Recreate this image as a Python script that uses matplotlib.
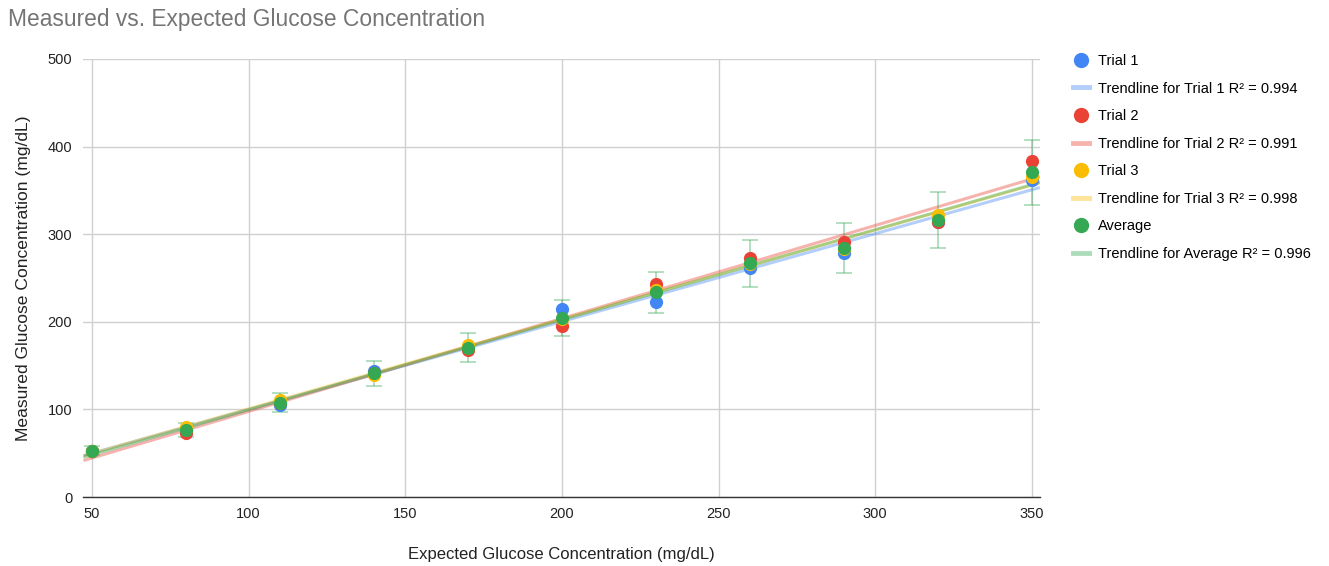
"""Measured vs. expected glucose concentration scatter with linear trendlines."""

import matplotlib

matplotlib.use("Agg")
import matplotlib.pyplot as plt
import numpy as np
from matplotlib.lines import Line2D

plt.rcParams["font.family"] = ["Liberation Sans", "DejaVu Sans"]

expected = [50, 80, 110, 140, 170, 200, 230, 260, 290, 320, 350]
trial_1 = [52.8, 76.5, 104.5, 144.0, 170.8, 214.6, 223.0, 261.8, 278.8, 314.0, 362.4]
trial_2 = [52.8, 73.3, 107.5, 141.0, 168.0, 195.3, 242.7, 272.8, 290.6, 313.4, 384.0]
trial_3 = [52.8, 79.4, 110.5, 139.0, 173.0, 203.3, 236.0, 266.0, 283.3, 321.8, 365.5]
average = [52.8, 76.4, 107.5, 141.3, 170.6, 204.4, 233.9, 266.9, 284.2, 316.4, 370.6]

series_names = ["Trial 1", "Trial 2", "Trial 3", "Average"]
r_squared = ["0.994", "0.991", "0.998", "0.996"]
error_percent = 10  # percent error bars on the average series

colors = ["#4285F4", "#EA4335", "#FBBC04", "#34A853"]

fig = plt.figure(figsize=(13.29, 5.66), dpi=100)
ax = fig.add_axes([0.0628, 0.1219, 0.7197, 0.7739])

x_lo, x_hi = 47.3, 352.6
ax.set_xlim(x_lo, x_hi)
ax.set_ylim(0, 500)

x = np.array(expected, dtype=float)
all_series = [trial_1, trial_2, trial_3, average]

# trendlines first so points sit above them
x_line = np.array([x_lo, x_hi])
for ys, color in zip(all_series, colors):
    slope, intercept = np.polyfit(x, np.array(ys), 1)
    ax.plot(x_line, slope * x_line + intercept, color=color, alpha=0.4,
            lw=2.2, zorder=2, solid_capstyle="butt")

avg = np.array(average)
ax.errorbar(x, avg, yerr=avg * error_percent / 100, fmt="none",
            ecolor=colors[3], alpha=0.4, elinewidth=1.3, capsize=6,
            capthick=1.3, zorder=3)

for ys, color in zip(all_series, colors):
    ax.plot(x, ys, "o", color=color, markersize=9.5, markeredgewidth=0,
            zorder=4)

ax.set_xticks([50, 100, 150, 200, 250, 300, 350])
ax.set_yticks([0, 100, 200, 300, 400, 500])
ax.grid(True, color="#d0d0d0", lw=1)
ax.set_axisbelow(True)
ax.tick_params(axis="x", length=0, labelsize=10.5, colors="#222222", pad=7)
ax.tick_params(axis="y", length=0, labelsize=10.5, colors="#222222", pad=8)
for side in ["top", "right", "left"]:
    ax.spines[side].set_visible(False)
ax.spines["bottom"].set_color("#333333")
ax.spines["bottom"].set_linewidth(1)

ax.set_xlabel("Expected Glucose Concentration (mg/dL)", fontsize=12,
              color="#222222", labelpad=19)
ax.set_ylabel("Measured Glucose Concentration (mg/dL)", fontsize=12.6,
              color="#222222", labelpad=12)

fig.text(0.006, 0.965, "Measured vs. Expected Glucose Concentration",
         fontsize=16.4, color="#757575", va="center", ha="left")

handles = []
labels = []
for name, r2, color in zip(series_names, r_squared, colors):
    handles.append(Line2D([], [], ls="none", marker="o", color=color,
                          markersize=11, markeredgewidth=0))
    labels.append(name)
    handles.append(Line2D([], [], color=color, alpha=0.4, lw=3.5))
    labels.append(f"Trendline for {name} R² = {r2}")

fig.legend(handles, labels, loc="upper left", bbox_to_anchor=(0.803, 0.915),
           frameon=False, fontsize=10.5, handlelength=1.1, handletextpad=0.6,
           labelspacing=0.93, borderaxespad=0)

fig.savefig("out.png", dpi=100)
plt.close(fig)
